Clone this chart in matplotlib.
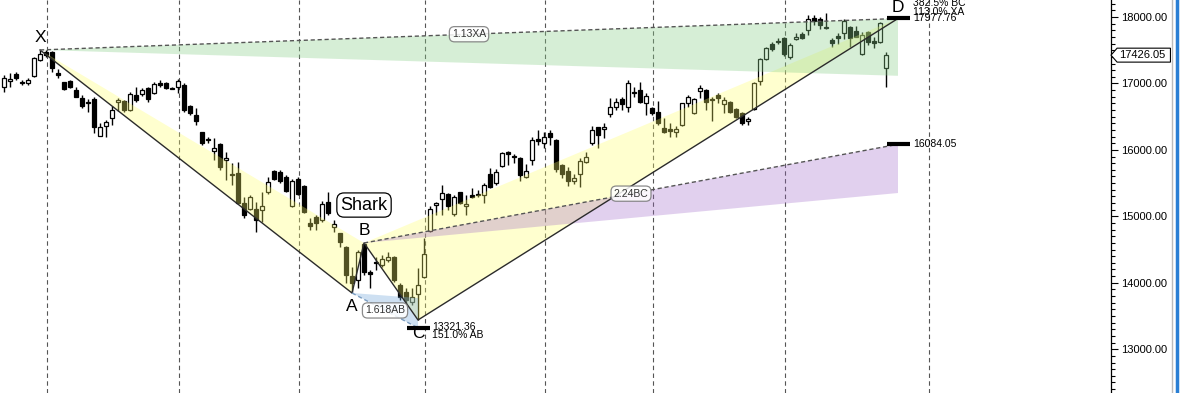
# Shark harmonic pattern on a daily candlestick chart
import matplotlib.pyplot as plt
import matplotlib.ticker as ticker
import matplotlib.transforms as mtransforms
from matplotlib.patches import Polygon
from matplotlib.lines import Line2D

plt.rcParams['font.family'] = ['Liberation Sans', 'DejaVu Sans']

# OHLC, one entry per session
opens = [16951, 17032, 17138, 17017, 17002, 17112, 17353, 17473, 17473, 17162,
         17017, 17041, 16902, 16777, 16721, 16766, 16214, 16360, 16476, 16716,
         16736, 16601, 16826, 16837, 16936, 16852, 17002, 17002, 16924, 16942,
         16972, 16661, 16525, 16262, 16160, 15988, 16089, 15848, 15630, 15652,
         15201, 15111, 15111, 15096, 15362, 15682, 15672, 15597, 15156, 15562,
         15457, 14904, 14986, 14945, 15221, 14835, 14745, 14543, 14102, 14042,
         14584, 14167, 14309, 14263, 14343, 14393, 13967, 13866, 13715, 13831,
         14083, 14784, 15166, 15261, 15336, 15031, 15362, 15156, 15321, 15317,
         15321, 15637, 15497, 15758, 15964, 15898, 15874, 15588, 15848, 16160,
         16108, 16259, 16149, 15773, 15687, 15532, 15633, 15813, 16099, 16340,
         16310, 16540, 16650, 16762, 16650, 16876, 16902, 16710, 16626, 16575,
         16325, 16310, 16274, 16375, 16710, 16551, 16891, 16902, 16766, 16826,
         16691, 16725, 16611, 16560, 16430, 16611, 17041, 17364, 17594, 17636,
         17680, 17403, 17665, 17740, 17805, 17990, 17966, 17845, 17654, 17719,
         17755, 17845, 17794, 17443, 17779, 17643, 17628, 17228]
highs = [17127, 17157, 17172, 17052, 17082, 17403, 17504, 17496, 17488, 17213,
         17027, 17052, 16951, 16826, 16766, 16792, 16400, 16450, 16661, 16777,
         16751, 16876, 16951, 16927, 16951, 17027, 17052, 17027, 16951, 17063,
         17002, 16676, 16626, 16274, 16199, 16179, 16100, 15969, 15803, 15818,
         15291, 15321, 15216, 15366, 15597, 15698, 15698, 15622, 15557, 15588,
         15472, 14975, 15020, 15236, 15371, 14945, 14749, 14554, 14242, 14493,
         14599, 14192, 14393, 14418, 14468, 14403, 13992, 13917, 13922, 14223,
         14674, 15156, 15221, 15472, 15347, 15321, 15371, 15321, 15422, 15397,
         15506, 15723, 15708, 15973, 15988, 15938, 15889, 15788, 16190, 16300,
         16274, 16300, 16160, 15788, 15738, 15637, 15874, 15973, 16360, 16350,
         16409, 16777, 16777, 16792, 17052, 16951, 17027, 16861, 16646, 16736,
         16476, 16409, 16360, 16710, 16826, 16777, 16977, 16912, 16792, 16852,
         16792, 16740, 16626, 16575, 16500, 17027, 17379, 17553, 17628, 17680,
         17695, 17604, 17764, 17779, 18030, 18030, 18005, 18056, 17680, 17755,
         17966, 17865, 17865, 17779, 17794, 17704, 17929, 17478]
lows = [16871, 16947, 17052, 16977, 16977, 17102, 17342, 17398, 17172, 17087,
        16902, 16932, 16792, 16626, 16575, 16259, 16210, 16199, 16375, 16590,
        16575, 16590, 16725, 16811, 16725, 16841, 16942, 16912, 16912, 16852,
        16575, 16525, 16375, 16074, 16099, 15848, 15698, 15547, 15472, 15186,
        14975, 15096, 14764, 14915, 15336, 15547, 15497, 15371, 15145, 15321,
        15046, 14794, 14794, 14919, 15021, 14769, 14543, 13992, 13846, 13922,
        14117, 13917, 14192, 14242, 14318, 14017, 13741, 13666, 13666, 13440,
        14072, 14769, 15020, 15020, 15096, 15005, 15186, 15021, 15272, 15296,
        15196, 15422, 15472, 15747, 15773, 15798, 15537, 15577, 15773, 16074,
        16024, 16074, 15672, 15582, 15457, 15487, 15446, 15798, 16074, 16024,
        16175, 16500, 16601, 16601, 16575, 16801, 16701, 16525, 16525, 16375,
        16250, 16199, 16199, 16360, 16650, 16540, 16777, 16601, 16440, 16701,
        16551, 16551, 16476, 16375, 16375, 16601, 16977, 17353, 17493, 17594,
        17413, 17364, 17660, 17665, 17729, 17880, 17815, 17826, 17544, 17594,
        17665, 17553, 17695, 17428, 17579, 17529, 17613, 16951]
closes = [17078, 17063, 17087, 17007, 17052, 17379, 17443, 17424, 17228, 17132,
          16912, 16951, 16801, 16665, 16710, 16349, 16349, 16424, 16601, 16751,
          16601, 16841, 16751, 16902, 16762, 16987, 16981, 16927, 16917, 17041,
          16601, 16551, 16435, 16104, 16144, 16024, 15747, 15883, 15615, 15201,
          15020, 15291, 14945, 15156, 15521, 15567, 15532, 15386, 15537, 15336,
          15070, 14855, 14895, 15186, 15055, 14880, 14618, 14117, 13992, 14463,
          14167, 14132, 14298, 14354, 14393, 14042, 13791, 13741, 13791, 13967,
          14433, 15106, 15196, 15347, 15156, 15287, 15205, 15181, 15296, 15336,
          15472, 15446, 15672, 15949, 15938, 15889, 15622, 15682, 16149, 16139,
          16190, 16199, 15708, 15637, 15537, 15573, 15833, 15889, 16300, 16224,
          16349, 16641, 16716, 16686, 17011, 16852, 16725, 16811, 16551, 16400,
          16274, 16289, 16310, 16701, 16792, 16762, 16927, 16725, 16751, 16777,
          16751, 16575, 16491, 16409, 16461, 17011, 17364, 17529, 17523, 17621,
          17443, 17579, 17695, 17680, 17966, 17944, 17880, 17830, 17604, 17689,
          17944, 17680, 17704, 17729, 17628, 17613, 17905, 17426.05]

# month separators (session index)
month_starts = [7, 29, 49, 70, 90, 108, 130, 154]

# pattern points: (session index, price)
point_names = ['X', 'A', 'B', 'C', 'D']
point_idx = [6, 58, 60, 69, 149]
point_price = [17504, 13846, 14599, 13440, 17977.76]

# projected levels and zone edges
d_level = 17977.76
bc_level = 16084.05
c_level = 13321.36
xa_zone_low = 17115
bc_zone_low = 15351
ab_zone_top = 13770
last_price = 17426.05


def draw_candles(ax):
    n = len(opens)
    x = list(range(n))
    ax.vlines(x, lows, highs, color='black', lw=1, zorder=2)
    for i in range(n):
        o, c = opens[i], closes[i]
        bottom = min(o, c)
        height = max(abs(c - o), 12)
        face = 'white' if c >= o else 'black'
        ax.bar(i, height, bottom=bottom, width=0.62, color=face,
               edgecolor='black', lw=0.9, zorder=2.5)


def draw_pattern(ax):
    X, A, B, C, D = [(point_idx[k], point_price[k]) for k in range(5)]
    end = point_idx[4]

    fills = [
        ([X, A, B], (1.0, 1.0, 0.42), 0.32),
        ([B, C, D], (1.0, 1.0, 0.42), 0.32),
        ([X, D, (end, xa_zone_low)], (0.55, 0.82, 0.55), 0.35),
        ([B, (end, bc_level), (end, bc_zone_low)], (0.62, 0.40, 0.78), 0.30),
        ([A, (C[0], ab_zone_top), (C[0], c_level)], (0.45, 0.66, 0.86), 0.35),
    ]
    for pts, col, alpha in fills:
        ax.add_patch(Polygon(pts, closed=True, facecolor=col, alpha=alpha,
                             edgecolor='none', zorder=3))

    xs = [p[0] for p in (X, A, B, C, D)]
    ys = [p[1] for p in (X, A, B, C, D)]
    ax.plot(xs, ys, color='#2b2b2b', lw=1, zorder=4)

    box = dict(boxstyle='round,pad=0.25,rounding_size=0.5', fc='white',
               ec='#777777', lw=0.9, alpha=0.85)
    dashed = [
        (X, D, '#555555', '1.13XA'),
        (B, (end, bc_level), '#555555', '2.24BC'),
        (A, (C[0], c_level), '#7a9cc0', '1.618AB'),
    ]
    for p0, p1, col, label in dashed:
        ax.plot([p0[0], p1[0]], [p0[1], p1[1]], color=col, lw=1,
                ls=(0, (3, 2)), zorder=4)
        ax.text((p0[0] + p1[0]) / 2, (p0[1] + p1[1]) / 2, label,
                fontsize=7.5, color='#333333', ha='center', va='center',
                bbox=box, zorder=5)

    # point letters
    offsets = {'X': (0, 190), 'A': (0, -200), 'B': (0, 190), 'C': (0, -210),
               'D': (0, 170)}
    for name, px, py in zip(point_names, point_idx, point_price):
        dx, dy = offsets[name]
        ax.text(px + dx, py + dy, name, fontsize=12.5, ha='center',
                va='center', zorder=5)

    ax.text(60, 15170, 'Shark', fontsize=13, ha='center', va='center',
            bbox=dict(boxstyle='round,pad=0.2,rounding_size=0.4', fc='white',
                      ec='black', lw=0.9), zorder=5)

    # projected level markers
    for lv, x0, x1 in [(d_level, 147.2, 151), (bc_level, 147.2, 151),
                       (c_level, 67.2, 71)]:
        ax.plot([x0, x1], [lv, lv], color='black', lw=3, zorder=5,
                solid_capstyle='butt')
    ax.text(151.5, d_level, f'{d_level:.2f}', fontsize=7.5, va='center',
            zorder=5)
    ax.text(151.5, d_level + 95, '113.0% XA', fontsize=7.5, va='center',
            zorder=5)
    ax.text(151.5, d_level + 235, '382.5% BC', fontsize=7.5, va='center',
            zorder=5)
    ax.text(151.5, bc_level, f'{bc_level:.2f}', fontsize=7.5, va='center',
            zorder=5)
    ax.text(71.3, c_level + 10, f'{c_level:.2f}', fontsize=7.5, va='center',
            zorder=5)
    ax.text(71.3, c_level - 100, '151.0% AB', fontsize=7.5, va='center',
            zorder=5)


def main():
    fig = plt.figure(figsize=(11.81, 3.93), dpi=100)
    ax = fig.add_axes([0, 0, 1111 / 1181, 1])

    draw_candles(ax)
    draw_pattern(ax)

    for m in month_starts:
        ax.axvline(m + 0.15, color='#555555', lw=0.8, ls=(0, (4, 3)),
                   zorder=1)

    ax.set_xlim(-0.67, 184.5)
    ax.set_ylim(12341, 18256)
    ax.set_xticks([])
    ax.yaxis.tick_right()
    ax.yaxis.set_major_locator(ticker.MultipleLocator(1000))
    ax.yaxis.set_minor_locator(ticker.MultipleLocator(100))
    ax.yaxis.set_major_formatter(ticker.FormatStrFormatter('%.2f'))
    ax.tick_params(axis='y', which='major', length=5, width=0.8,
                   labelsize=8, pad=2)
    ax.tick_params(axis='y', which='minor', length=3, width=0.8)
    for side in ['top', 'left', 'bottom']:
        ax.spines[side].set_visible(False)
    ax.spines['right'].set_linewidth(0.9)

    # last price tag on the axis
    trans = mtransforms.blended_transform_factory(ax.transAxes, ax.transData)
    h = 105
    tag = Polygon([(1.0, last_price), (1.0055, last_price + h),
                   (1.0535, last_price + h), (1.0535, last_price - h),
                   (1.0055, last_price - h)], closed=True, transform=trans,
                  facecolor='white', edgecolor='black', lw=0.8, clip_on=False,
                  zorder=6)
    ax.add_patch(tag)
    ax.text(1.0075, last_price, f'{last_price:.2f}', transform=trans,
            fontsize=8, va='center', ha='left', clip_on=False, zorder=7)

    # window border on the right
    fig.add_artist(Line2D([1172 / 1181] * 2, [0, 1], color='#bbbbbb', lw=1))
    fig.add_artist(Line2D([1176.5 / 1181] * 2, [0, 1], color='#2a7fd4',
                          lw=2.5))

    fig.savefig('out.png', dpi=100)
    plt.close(fig)


if __name__ == '__main__':
    main()
